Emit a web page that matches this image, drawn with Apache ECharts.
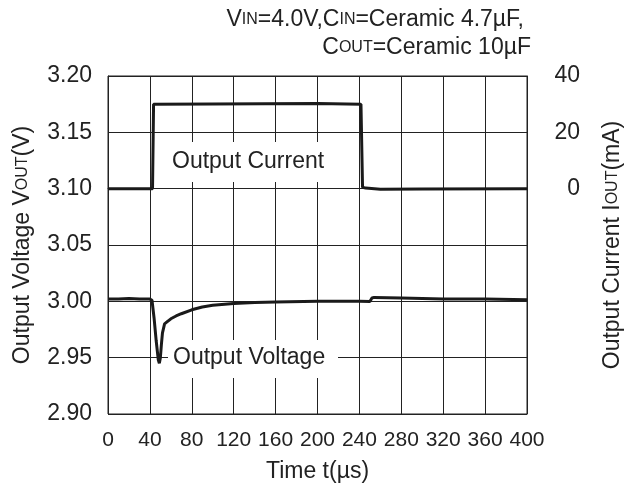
<!DOCTYPE html>
<html>
<head>
<meta charset="utf-8">
<script src="https://cdn.jsdelivr.net/npm/echarts@6/dist/echarts.min.js"></script>
<style>
html,body{margin:0;padding:0;background:#fff;}
#c{width:635px;height:487px;}
</style>
</head>
<body>
<div id="c"></div>
<script>
// ---- data ----
var xTicks = [0, 40, 80, 120, 160, 200, 240, 280, 320, 360, 400];
var voltTicks = [2.90, 2.95, 3.00, 3.05, 3.10, 3.15, 3.20];
var currTicks = [0, 20, 40];

var currentTime   = [0, 42.5, 43.5, 100, 200, 241.5, 243, 246, 260, 300, 400];
var currentValues = [0, 0, 30, 30.1, 30.2, 30.0, 0.5, 0.2, -0.2, -0.1, 0];

var voltageTime   = [0, 10, 20, 30, 40, 42, 44, 46, 48, 49, 50, 51, 52, 54, 56, 60, 65, 70, 80, 90, 100, 120, 140, 160, 200, 240, 250, 252, 254, 280, 320, 360, 400];
var voltageValues = [3.002, 3.002, 3.0025, 3.002, 3.002, 3.001, 2.985, 2.965, 2.948, 2.945, 2.95, 2.962, 2.972, 2.980, 2.9815, 2.9845, 2.987, 2.989, 2.9925, 2.995, 2.9965, 2.998, 2.9990, 2.9995, 3.0, 3.0, 2.9998, 3.003, 3.0035, 3.003, 3.002, 3.002, 3.0015];

function zip(a, b) { return a.map(function (v, i) { return [v, b[i]]; }); }

var FONT = "'Liberation Sans', Arial, sans-serif";
var TXT = '#222';

var chart = echarts.init(document.getElementById('c'), null, {renderer: 'canvas'});
var option = {
  animation: false,
  backgroundColor: '#fff',
  grid: {left: 108, top: 76, right: 108, bottom: 73, containLabel: false, outerBoundsMode: 'none',
         show: true, borderColor: '#222', borderWidth: 1},
  xAxis: {
    type: 'value', min: xTicks[0], max: xTicks[xTicks.length - 1], interval: 40,
    name: 'Time t(µs)', nameLocation: 'middle', nameGap: 46,
    nameTextStyle: {fontFamily: FONT, fontSize: 23, color: TXT},
    axisLine: {show: true, lineStyle: {color: '#222', width: 1}},
    axisTick: {show: false},
    splitLine: {show: true, lineStyle: {color: '#222', width: 1}},
    axisLabel: {fontFamily: "'Liberation Sans Narrow', " + FONT, fontSize: 21, color: TXT, margin: 16}
  },
  yAxis: [{
    type: 'value', min: voltTicks[0], max: voltTicks[voltTicks.length - 1], interval: 0.05,
    name: 'Output Voltage V{s|OUT}(V)', nameLocation: 'middle', nameGap: 74,
    nameTextStyle: {fontFamily: FONT, fontSize: 23, color: TXT,
      rich: {s: {fontFamily: FONT, fontSize: 16, color: TXT}}},
    axisLine: {show: true, lineStyle: {color: '#222', width: 1}},
    axisTick: {show: false},
    splitLine: {show: true, lineStyle: {color: '#222', width: 1}},
    axisLabel: {fontFamily: FONT, fontSize: 23, color: TXT, margin: 16,
      formatter: function (v) { return v.toFixed(2); }}
  }, {
    type: 'value', position: 'right', min: -80, max: 40, interval: 20,
    name: 'Output Current I{s|OUT}(mA)', nameLocation: 'middle', nameGap: 74,
    nameTextStyle: {fontFamily: FONT, fontSize: 23, color: TXT,
      rich: {s: {fontFamily: FONT, fontSize: 16, color: TXT}}},
    axisLine: {show: true, lineStyle: {color: '#222', width: 1}},
    axisTick: {show: false},
    splitLine: {show: false},
    axisLabel: {fontFamily: FONT, fontSize: 23, color: TXT, margin: 53, align: 'right',
      formatter: function (v) { return currTicks.indexOf(v) >= 0 ? String(v) : ''; }}
  }],
  series: [{
    type: 'line', name: 'Output Voltage', yAxisIndex: 0,
    data: zip(voltageTime, voltageValues),
    showSymbol: false, symbol: 'none',
    lineStyle: {color: '#1a1a1a', width: 3}, z: 5
  }, {
    type: 'line', name: 'Output Current', yAxisIndex: 1,
    data: zip(currentTime, currentValues),
    showSymbol: false, symbol: 'none',
    lineStyle: {color: '#1a1a1a', width: 3}, z: 5
  }],
  graphic: [
    {type: 'text', right: 635 - 524, top: 8,
     style: {text: 'V{s|IN}=4.0V,C{s|IN}=Ceramic 4.7µF,', font: '23px ' + FONT, fill: TXT,
       rich: {s: {fontFamily: FONT, fontSize: 16, fill: TXT}}}},
    {type: 'text', right: 635 - 531, top: 36,
     style: {text: 'C{s|OUT}=Ceramic 10µF', font: '23px ' + FONT, fill: TXT,
       rich: {s: {fontFamily: FONT, fontSize: 16, fill: TXT}}}},
    {type: 'rect', shape: {x: 160, y: 142, width: 176, height: 40}, style: {fill: '#fff'}, z: 3},
    {type: 'text', x: 172, y: 162, z: 4,
     style: {text: 'Output Current', font: '23px ' + FONT, fill: TXT, verticalAlign: 'middle'}},
    {type: 'rect', shape: {x: 168, y: 340, width: 170, height: 38}, style: {fill: '#fff'}, z: 3},
    {type: 'text', x: 173, y: 358, z: 4,
     style: {text: 'Output Voltage', font: '23px ' + FONT, fill: TXT, verticalAlign: 'middle'}},
    {type: 'line', shape: {x1: 340, y1: 357.5, x2: 357, y2: 357.5}, style: {stroke: '#222', lineWidth: 1}, z: 4}
  ]
};
chart.setOption(option);
</script>
</body>
</html>
